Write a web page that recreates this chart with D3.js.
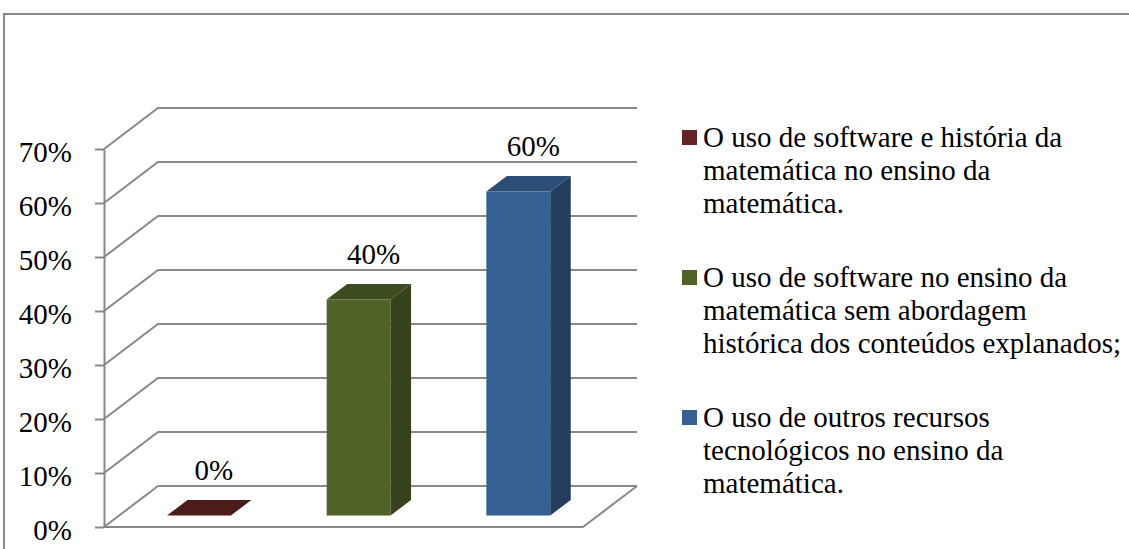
<!DOCTYPE html>
<html>
<head>
<meta charset="utf-8">
<script src="https://cdn.jsdelivr.net/npm/d3@7"></script>
<style>
  body { margin: 0; background: #fff; }
  svg { display: block; }
</style>
</head>
<body>
<svg width="1129" height="549"></svg>
<script>
// chart data
const categories = [
  'O uso de software e história da matemática no ensino da matemática.',
  'O uso de software no ensino da matemática sem abordagem histórica dos conteúdos explanados;',
  'O uso de outros recursos tecnológicos no ensino da matemática.'
];
const values = [0, 0.4, 0.6];
const valueLabels = ['0%', '40%', '60%'];
const tickValues = [0, 0.1, 0.2, 0.3, 0.4, 0.5, 0.6, 0.7];
// legend text broken the way the picture breaks it
const legendLines = [
  ['O uso de software e história da', 'matemática no ensino da', 'matemática.'],
  ['O uso de software no ensino da', 'matemática sem abordagem', 'histórica dos conteúdos explanados;'],
  ['O uso de outros recursos', 'tecnológicos no ensino da', 'matemática.']
];

// colours: front, top, side, legend
const faceColors = [
  { front: '#632523', top: '#4b1c1a', side: '#3f1716', key: '#632523' },
  { front: '#4f6228', top: '#3e4d20', side: '#35421b', key: '#4f6228' },
  { front: '#376092', top: '#2c4d75', side: '#233d5e', key: '#376092' }
];

const gridColor = '#888888';
const fontSize = 29;
const fontFamily = "'Times New Roman', 'Liberation Serif', Tinos, 'DejaVu Serif', serif";

const svg = d3.select('svg'),
      width = +svg.attr('width'),
      height = +svg.attr('height');

// outer frame (only top and left edges fall in the picture)
svg.append('path')
  .attr('d', 'M4,' + height + 'V14H' + width)
  .attr('fill', 'none')
  .attr('stroke', '#878787')
  .attr('stroke-width', 2);

const depth = { x: 54, y: -41 }; // floor depth vector

const x = d3.scaleBand().domain(categories).range([104, 583]);
const y = d3.scaleLinear().domain([0, 0.7]).range([527, 149]);

// back wall gridlines + side wall diagonals
const grid = svg.append('g').attr('class', 'grid');
grid.selectAll('path')
  .data(tickValues)
  .enter().append('path')
    .attr('d', t => 'M' + x.range()[0] + ',' + y(t)
                  + 'L' + (x.range()[0] + depth.x) + ',' + (y(t) + depth.y)
                  + 'L' + (x.range()[1] + depth.x) + ',' + (y(t) + depth.y))
    .attr('fill', 'none')
    .attr('stroke', gridColor)
    .attr('stroke-width', 2);

// floor front edge and right edge
grid.append('path')
  .attr('d', 'M' + x.range()[0] + ',' + y(0)
           + 'L' + x.range()[1] + ',' + y(0)
           + 'L' + (x.range()[1] + depth.x) + ',' + (y(0) + depth.y))
  .attr('fill', 'none')
  .attr('stroke', gridColor)
  .attr('stroke-width', 2);

// y axis
const yAxis = d3.axisLeft(y)
  .tickValues(tickValues)
  .tickFormat(d3.format('.0%'))
  .tickSize(9)
  .tickSizeOuter(0)
  .tickPadding(23);

const axisG = svg.append('g')
  .attr('transform', 'translate(' + x.range()[0] + ',0)')
  .call(yAxis)
  .attr('font-family', fontFamily)
  .attr('font-size', fontSize);
axisG.select('.domain').attr('stroke', gridColor).attr('stroke-width', 2);
axisG.selectAll('.tick line').attr('stroke', gridColor).attr('stroke-width', 2);
axisG.selectAll('.tick text')
  .attr('fill', '#000')
  .attr('dy', '0.44em');

// 3d bars
const t0 = 0.28, t1 = 0.66;
const barW = x.bandwidth() * 0.4;
const dd = { x: (t1 - t0) * depth.x, y: (t1 - t0) * depth.y };

function barGeom(d, i) {
  const left = x(categories[i]) + (x.bandwidth() - barW) / 2 + t0 * depth.x;
  const bottom = y(0) + t0 * depth.y;
  const top = y(d) + t0 * depth.y;
  return { left: left, right: left + barW, top: top, bottom: bottom };
}

const bars = svg.append('g').attr('class', 'bars')
  .selectAll('g')
  .data(values)
  .enter().append('g');

bars.append('rect')
  .attr('x', (d, i) => barGeom(d, i).left)
  .attr('y', (d, i) => barGeom(d, i).top)
  .attr('width', barW)
  .attr('height', (d, i) => barGeom(d, i).bottom - barGeom(d, i).top)
  .attr('fill', (d, i) => faceColors[i].front);

bars.append('path')
  .attr('d', (d, i) => {
    const g = barGeom(d, i);
    return 'M' + g.right + ',' + g.top
         + 'L' + (g.right + dd.x) + ',' + (g.top + dd.y)
         + 'L' + (g.right + dd.x) + ',' + (g.bottom + dd.y)
         + 'L' + g.right + ',' + g.bottom + 'Z';
  })
  .attr('fill', (d, i) => faceColors[i].side);

bars.append('path')
  .attr('d', (d, i) => {
    const g = barGeom(d, i);
    return 'M' + g.left + ',' + g.top
         + 'L' + g.right + ',' + g.top
         + 'L' + (g.right + dd.x) + ',' + (g.top + dd.y)
         + 'L' + (g.left + dd.x) + ',' + (g.top + dd.y) + 'Z';
  })
  .attr('fill', (d, i) => faceColors[i].top);

// value labels
bars.append('text')
  .attr('x', (d, i) => barGeom(d, i).left + barW / 2 + 15)
  .attr('y', (d, i) => barGeom(d, i).top + dd.y - 20)
  .attr('text-anchor', 'middle')
  .attr('font-family', fontFamily)
  .attr('font-size', fontSize)
  .text((d, i) => valueLabels[i]);

// legend
const legend = svg.append('g').attr('class', 'legend')
  .selectAll('g')
  .data(legendLines)
  .enter().append('g')
    .attr('transform', (d, i) => 'translate(682,' + (147 + i * 140) + ')');

legend.append('rect')
  .attr('x', 0)
  .attr('y', -17)
  .attr('width', 15)
  .attr('height', 15)
  .attr('fill', (d, i) => faceColors[i].key);

legend.append('text')
  .attr('font-family', fontFamily)
  .attr('font-size', fontSize)
  .selectAll('tspan')
  .data(d => d)
  .enter().append('tspan')
    .attr('x', 21)
    .attr('y', (d, j) => j * 33)
    .text(d => d);
</script>
</body>
</html>
